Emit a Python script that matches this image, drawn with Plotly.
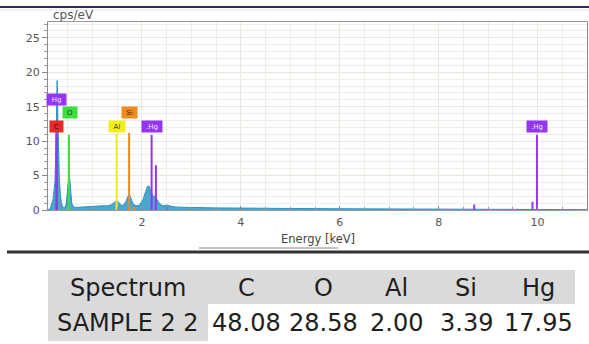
import plotly.graph_objects as go

# ---------------- data ----------------
energy_kev = [0.10, 0.15, 0.20, 0.24, 0.26, 0.27, 0.285, 0.30, 0.31, 0.33, 0.35, 0.37, 0.40,
              0.44, 0.47, 0.49, 0.51, 0.525, 0.54, 0.56, 0.58, 0.61, 0.66, 0.72, 0.80, 0.90,
              1.00, 1.10, 1.20, 1.30, 1.38, 1.44, 1.49, 1.53, 1.58, 1.63, 1.68, 1.72, 1.745,
              1.77, 1.82, 1.88, 1.95, 2.02, 2.07, 2.11, 2.14, 2.18, 2.22, 2.26, 2.30, 2.36,
              2.42, 2.50, 2.56, 2.65, 2.80, 3.00, 3.50, 4.00, 4.50, 5.00, 6.00, 7.00, 8.00,
              9.00, 10.00, 11.00]
counts_cps = [0.0, 0.3, 1.5, 4.0, 9.0, 14.0, 18.8, 13.0, 8.0, 4.5, 2.2, 1.0, 0.4,
              0.3, 0.9, 3.0, 4.8, 5.2, 4.5, 2.5, 1.0, 0.5, 0.35, 0.4, 0.45, 0.5,
              0.5, 0.55, 0.6, 0.6, 0.75, 1.1, 1.4, 1.1, 0.7, 0.7, 1.3, 2.0, 2.3,
              1.8, 0.9, 0.6, 0.7, 1.5, 2.6, 3.4, 3.5, 2.8, 2.0, 2.0, 1.6, 0.9,
              0.6, 0.7, 0.6, 0.45, 0.4, 0.35, 0.3, 0.28, 0.3, 0.22, 0.18, 0.15, 0.12,
              0.1, 0.08, 0.05]

line_elements = ["C", "Hg", "O", "Al", "Si", "Si", "Hg", "Hg", "Hg", "Hg", "Hg", "Hg"]
line_energy = [0.277, 0.27, 0.525, 1.487, 1.740, 1.836, 2.195, 2.282, 2.50, 8.72, 9.897, 9.988]
line_height = [11.0, 11.3, 10.9, 11.1, 11.2, 0.5, 10.9, 6.5, 0.4, 0.8, 1.2, 10.9]

label_text = ["Hg", "O", "Si", "C", "Al", ".Hg", ".Hg"]
label_energy = [0.28, 0.54, 1.75, 0.28, 1.49, 2.20, 9.98]
label_level = [16.1, 14.2, 14.2, 12.06, 12.06, 12.06, 12.06]

x_ticks = [2, 4, 6, 8, 10]
y_ticks = [0, 5, 10, 15, 20, 25]

table_header = ["Spectrum", "C", "O", "Al", "Si", "Hg"]
table_row = ["SAMPLE 2 2", "48.08", "28.58", "2.00", "3.39", "17.95"]

# ---------------- styles ----------------
W, H = 589, 344
elem_color = {"C": "#e52a2a", "O": "#3be03b", "Al": "#f2ef1c", "Si": "#f08a1f", "Hg": "#9535f5"}
label_bg = ["#9535f5", "#3be03b", "#f08a1f", "#e52a2a", "#f2ef1c", "#9535f5", "#9535f5"]
label_fg = ["#f3e8ff", "#1d3d1d", "#4a2a08", "#3a0808", "#3a3a08", "#f3e8ff", "#f3e8ff"]
label_w = [16, 11, 12, 10, 13, 17, 17]

table_left = 48
col_widths = [160, 77, 77, 69, 70, 74]
header_top, header_bottom, row_bottom = 270, 304, 341
table_font = dict(family="DejaVu Sans", size=24, color="#1e1e1e")
header_fill = "#dadada"


def px_x(p):
    return p / W


def px_y(p):
    return 1 - p / H


fig = go.Figure()

fig.add_trace(go.Scatter(
    x=energy_kev, y=counts_cps, mode="lines", fill="tozeroy",
    line=dict(color="#2b92c2", width=1), fillcolor="rgba(62,160,198,0.92)",
    hoverinfo="skip", showlegend=False))

for el, e, h in zip(line_elements, line_energy, line_height):
    fig.add_trace(go.Scatter(x=[e, e], y=[0, h], mode="lines",
                             line=dict(color=elem_color[el], width=2),
                             hoverinfo="skip", showlegend=False))

for t, e, lv, bg, fg, w in zip(label_text, label_energy, label_level, label_bg, label_fg, label_w):
    fig.add_annotation(x=e, y=lv, xref="x", yref="y", text=t, showarrow=False,
                       bgcolor=bg, font=dict(family="DejaVu Sans", size=7, color=fg),
                       width=w, height=8, borderpad=1.5, align="center")

# ---- table drawn with shapes + annotations ----
edges = [table_left]
for w in col_widths:
    edges.append(edges[-1] + w)
fig.add_shape(type="rect", xref="paper", yref="paper", layer="below",
              x0=px_x(edges[0]), x1=px_x(edges[-1]), y0=px_y(header_bottom), y1=px_y(header_top),
              fillcolor=header_fill, line=dict(width=0))
fig.add_shape(type="rect", xref="paper", yref="paper", layer="below",
              x0=px_x(edges[0]), x1=px_x(edges[1]), y0=px_y(row_bottom), y1=px_y(header_bottom),
              fillcolor=header_fill, line=dict(width=0))
for i, (hd, val) in enumerate(zip(table_header, table_row)):
    cx = (edges[i] + edges[i + 1]) / 2
    fig.add_annotation(x=px_x(cx), y=px_y((header_top + header_bottom) / 2 + 1),
                       xref="paper", yref="paper", text=hd, showarrow=False,
                       xanchor="center", yanchor="middle", font=table_font)
    fig.add_annotation(x=px_x(cx), y=px_y((header_bottom + row_bottom) / 2),
                       xref="paper", yref="paper", text=val, showarrow=False,
                       xanchor="center", yanchor="middle", font=table_font)

fig.update_layout(
    width=W, height=H, autosize=False,
    margin=dict(l=0, r=0, t=0, b=0, pad=0),
    paper_bgcolor="#ffffff", plot_bgcolor="#ffffff",
    font=dict(family="DejaVu Sans", color="#555555"),
    xaxis=dict(domain=[px_x(48), px_x(587)], range=[0.1, 11.0], automargin=False,
               tickvals=x_ticks, ticks="inside", ticklen=4, tickcolor="#888888",
               tickfont=dict(size=11, color="#555555"), ticklabelstandoff=2,
               showgrid=True, gridcolor="#e8e8e0", gridwidth=1,
               minor=dict(dtick=0.5, tick0=0, showgrid=True, gridcolor="#eeeee8",
                          ticks="inside", ticklen=3, tickcolor="#999999"),
               showline=True, linecolor="#9a9a9a", linewidth=1, mirror=True,
               zeroline=False, fixedrange=True),
    yaxis=dict(domain=[px_y(210), px_y(22)], range=[0, 27.3], automargin=False,
               tickvals=y_ticks, ticks="outside", ticklen=5, tickcolor="#888888",
               tickfont=dict(size=11, color="#555555"),
               showgrid=True, gridcolor="#e8e8e0", gridwidth=1,
               minor=dict(dtick=1, tick0=0, showgrid=True, gridcolor="#eeeee8",
                          ticks="outside", ticklen=3, tickcolor="#999999"),
               showline=True, linecolor="#8a8a8a", linewidth=1, mirror=True,
               zeroline=False, fixedrange=True),
    showlegend=False,
)

fig.add_annotation(x=px_x(73), y=px_y(15), xref="paper", yref="paper", text="cps/eV",
                   xanchor="center", yanchor="middle",
                   showarrow=False, font=dict(family="DejaVu Sans", size=12, color="#555555"))
fig.add_annotation(x=px_x(318), y=px_y(239), xref="paper", yref="paper", text="Energy [keV]",
                   xanchor="center", yanchor="middle",
                   showarrow=False, font=dict(family="DejaVu Sans", size=11.5, color="#444444"))

fig.add_shape(type="line", xref="paper", yref="paper", x0=0, x1=1, y0=px_y(7), y1=px_y(7),
              line=dict(color="#2d2d55", width=2))
fig.add_shape(type="line", xref="paper", yref="paper", x0=0, x1=1, y0=px_y(10), y1=px_y(10),
              line=dict(color="#e6e6ea", width=1))
fig.add_shape(type="line", xref="paper", yref="paper", x0=px_x(199), x1=px_x(338),
              y0=px_y(248), y1=px_y(248), line=dict(color="#c4c4c4", width=2))
fig.add_shape(type="line", xref="paper", yref="paper", x0=px_x(7), x1=1,
              y0=px_y(252), y1=px_y(252), line=dict(color="#333333", width=3))

fig.write_html("out.html")
